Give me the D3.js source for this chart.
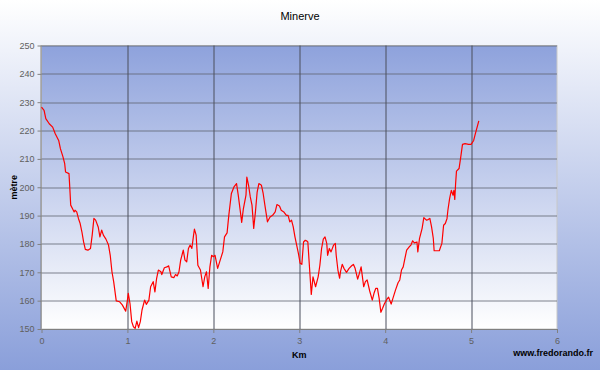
<!DOCTYPE html>
<html>
<head>
<meta charset="utf-8">
<script src="https://cdn.jsdelivr.net/npm/d3@7"></script>
<style>
  body { margin: 0; }
  svg { display: block; font-family: "Liberation Sans", Arial, sans-serif; }
</style>
</head>
<body>
<svg id="chart" width="600" height="370"></svg>
<script>
const chartSize = { width: 600, height: 370 };
const margin = { left: 41.5, right: 43, top: 45.5, bottom: 41 };

const width = chartSize.width - margin.left - margin.right;
const height = chartSize.height - margin.top - margin.bottom;

// profile: distance (km) and altitude (m)
const km = [
  0, 0.03, 0.05, 0.09, 0.13, 0.16, 0.2, 0.22, 0.25, 0.27, 0.28, 0.32, 0.33, 0.34, 0.36, 0.38,
  0.39, 0.41, 0.43, 0.45, 0.47, 0.49, 0.51, 0.54, 0.57, 0.59, 0.61, 0.63, 0.66, 0.68, 0.7,
  0.72, 0.75, 0.78, 0.8, 0.82, 0.84, 0.87, 0.91, 0.94, 0.98, 1.0, 1.01, 1.03, 1.05, 1.07,
  1.09, 1.11, 1.13, 1.15, 1.17, 1.2, 1.22, 1.25, 1.27, 1.3, 1.32, 1.34, 1.36, 1.39, 1.4,
  1.43, 1.46, 1.48, 1.51, 1.54, 1.56, 1.58, 1.6, 1.62, 1.65, 1.67, 1.69, 1.71, 1.73, 1.75,
  1.77, 1.78, 1.8, 1.82, 1.85, 1.88, 1.9, 1.92, 1.94, 1.96, 1.98, 2.0, 2.02, 2.05, 2.08,
  2.11, 2.13, 2.16, 2.18, 2.21, 2.24, 2.27, 2.29, 2.32, 2.33, 2.35, 2.38, 2.39, 2.41, 2.43,
  2.45, 2.47, 2.49, 2.51, 2.53, 2.56, 2.58, 2.6, 2.63, 2.66, 2.69, 2.72, 2.74, 2.77, 2.79,
  2.82, 2.85, 2.87, 2.89, 2.91, 2.93, 2.95, 2.97, 2.99, 3.01, 3.03, 3.05, 3.07, 3.09, 3.1,
  3.12, 3.14, 3.16, 3.19, 3.22, 3.24, 3.26, 3.28, 3.3, 3.32, 3.33, 3.35, 3.37, 3.4, 3.42,
  3.43, 3.45, 3.47, 3.48, 3.5, 3.52, 3.55, 3.58, 3.61, 3.63, 3.65, 3.68, 3.7, 3.72, 3.73,
  3.75, 3.77, 3.79, 3.82, 3.85, 3.87, 3.89, 3.91, 3.93, 3.95, 3.97, 3.99, 4.02, 4.04, 4.07,
  4.09, 4.12, 4.15, 4.17, 4.19, 4.21, 4.23, 4.25, 4.28, 4.3, 4.32, 4.34, 4.37, 4.38, 4.4,
  4.43, 4.45, 4.48, 4.5, 4.52, 4.54, 4.56, 4.57, 4.6, 4.63, 4.66, 4.68, 4.7, 4.72, 4.73,
  4.75, 4.77, 4.79, 4.8, 4.81, 4.82, 4.83, 4.86, 4.88, 4.9, 4.93, 4.97, 5.0, 5.03, 5.05, 5.09
];
const metres = [
  228.3, 227.1, 224.2, 222.4, 221.2, 218.9, 216.5, 213.6, 210.7, 208.3, 205.4, 204.8, 199.5, 193.7, 192.5, 191.3,
  191.9, 191.3, 189, 187.2, 184.3, 180.7, 178.1, 177.8, 178.4, 183.1, 189, 188.4, 186, 182.5, 184.9,
  183.1, 181.7, 179.6, 176, 170.2, 166.7, 159.9, 159.6, 158.5, 156.3, 160.2, 162.6, 159, 152.6, 150.8,
  150.2, 152.8, 150.5, 152.6, 156.7, 160.2, 158.7, 160.2, 164.9, 166.7, 163.1, 167.9, 170.8, 170.2, 169.2,
  171.6, 171.9, 172.3, 168.4, 168.1, 169.2, 168.7, 170.2, 174.3, 177.8, 174.3, 173.7, 178.4, 179.6, 178.4,
  183.1, 185.2, 183.1, 172.5, 170.8, 164.9, 168.4, 170.2, 164.3, 171.9, 176, 175.5, 176, 171.4, 174.3,
  177.2, 182.5, 183.9, 190.1, 197.8, 200.1, 201.3, 197.2, 190.1, 187.6, 192.5, 197.2, 203.6, 200.7, 196.6,
  193.7, 185.5, 191.3, 198.3, 201.3, 200.7, 197.8, 193.7, 187.8, 189.5, 190.1, 191.3, 193.9, 193.4, 191.9,
  191.3, 190.1, 190.1, 187.8, 188.4, 186, 182.5, 179.6, 176.7, 173.2, 172.8, 180.7, 181.3, 181, 180.7,
  171.4, 162.2, 168.4, 164.9, 168.4, 172.5, 178.4, 181.7, 182.5, 180.2, 176, 178.4, 177.2, 179.6, 180.2,
  176, 170.8, 167.9, 170.2, 172.8, 171.4, 170, 171.4, 172.3, 172.8, 171.4, 167.6, 169.6, 171.9, 169.6,
  164.9, 166.7, 167.3, 163.4, 160.2, 162.6, 164.3, 164.3, 160.8, 155.9, 157.3, 158.8, 160.5, 161.2, 158.8,
  160.8, 163.7, 166.3, 167.3, 170.8, 171.9, 174.9, 177.8, 179, 179.6, 181.1, 180.4, 180.7, 177.2, 182,
  185.5, 189.3, 188.4, 188.6, 189, 186, 182, 177.6, 177.6, 177.6, 180.2, 186.6, 187.2, 189, 191.9,
  196, 198.9, 197.2, 198.9, 195.7, 201.3, 205.7, 206.6, 210.7, 215.1, 215.4, 215.1, 215.1, 216.5, 218.9, 223.4
];
const xTicks = [0, 1, 2, 3, 4, 5, 6];
const yTicks = [150, 160, 170, 180, 190, 200, 210, 220, 230, 240, 250];

const svg = d3.select("#chart");
const defs = svg.append("defs");

const outerGrad = defs.append("linearGradient")
  .attr("id", "outer").attr("x1", 0).attr("y1", 0).attr("x2", 0).attr("y2", 1);
outerGrad.append("stop").attr("offset", "0%").attr("stop-color", "#ffffff");
outerGrad.append("stop").attr("offset", "100%").attr("stop-color", "#8a9fda");

const plotGrad = defs.append("linearGradient")
  .attr("id", "plotbg").attr("x1", 0).attr("y1", 0).attr("x2", 0).attr("y2", 1);
plotGrad.append("stop").attr("offset", "0%").attr("stop-color", "#8ea2dc");
plotGrad.append("stop").attr("offset", "100%").attr("stop-color", "#ffffff");

svg.append("rect")
  .attr("width", chartSize.width)
  .attr("height", chartSize.height)
  .attr("fill", "url(#outer)");

svg.append("text")
  .attr("x", 300)
  .attr("y", 20)
  .attr("text-anchor", "middle")
  .attr("font-size", 11)
  .attr("fill", "#000")
  .text("Minerve");

const x = d3.scaleLinear().domain([0, 6]).range([0, width]);
const y = d3.scaleLinear().domain([150, 250]).range([height, 0]);

const plot = svg.append("g")
  .attr("transform", `translate(${margin.left},${margin.top})`);

plot.append("rect")
  .attr("width", width)
  .attr("height", height)
  .attr("fill", "url(#plotbg)")
  .attr("stroke", "#c8c8c8");

// horizontal grid
plot.append("g")
  .selectAll("line")
  .data(yTicks.slice(1))
  .join("line")
  .attr("x1", 0)
  .attr("x2", width)
  .attr("y1", d => Math.round(y(d)) + 0.5)
  .attr("y2", d => Math.round(y(d)) + 0.5)
  .attr("stroke", "#5f6470")
  .attr("stroke-opacity", 0.8);

// vertical grid
plot.append("g")
  .selectAll("line")
  .data(xTicks.slice(1, -1))
  .join("line")
  .attr("x1", d => Math.round(x(d)) + 0.5)
  .attr("x2", d => Math.round(x(d)) + 0.5)
  .attr("y1", 0)
  .attr("y2", height)
  .attr("stroke", "#4a4f5c");

const yAxis = d3.axisLeft(y).tickValues(yTicks).tickFormat(d3.format("d")).tickSize(4).tickPadding(3);
const yG = plot.append("g").attr("class", "y-axis").call(yAxis);

const xAxis = d3.axisBottom(x).tickValues(xTicks).tickFormat(d3.format("d")).tickSize(4).tickPadding(5);
const xG = plot.append("g")
  .attr("class", "x-axis")
  .attr("transform", `translate(0,${height})`)
  .call(xAxis);

[yG, xG].forEach(g => {
  g.select(".domain").attr("stroke", "#808080");
  g.selectAll(".tick line").attr("stroke", "#808080");
  g.selectAll(".tick text")
    .attr("fill", "#606060")
    .attr("font-size", 9)
    .attr("font-family", "Liberation Sans, Arial, sans-serif");
});
xG.select(".domain").attr("d", `M0,0.5H${width}`);
yG.select(".domain").attr("d", `M-0.5,0V${height}`);

const profile = km.map((k, i) => ({ km: k, m: metres[i] }));
const line = d3.line().x(d => x(d.km)).y(d => y(d.m));

plot.append("path")
  .datum(profile)
  .attr("d", line)
  .attr("fill", "none")
  .attr("stroke", "#ff0000")
  .attr("stroke-width", 1.2)
  .attr("stroke-linejoin", "round");

svg.append("text")
  .attr("x", margin.left + width / 2)
  .attr("y", 358)
  .attr("text-anchor", "middle")
  .attr("font-size", 9)
  .attr("font-weight", "bold")
  .text("Km");

svg.append("text")
  .attr("x", 593)
  .attr("y", 356)
  .attr("text-anchor", "end")
  .attr("font-size", 9)
  .attr("font-weight", "bold")
  .text("www.fredorando.fr");

svg.append("text")
  .attr("transform", `translate(17,${margin.top + height / 2}) rotate(-90)`)
  .attr("text-anchor", "middle")
  .attr("font-size", 9)
  .attr("font-weight", "bold")
  .text("mètre");
</script>
</body>
</html>
